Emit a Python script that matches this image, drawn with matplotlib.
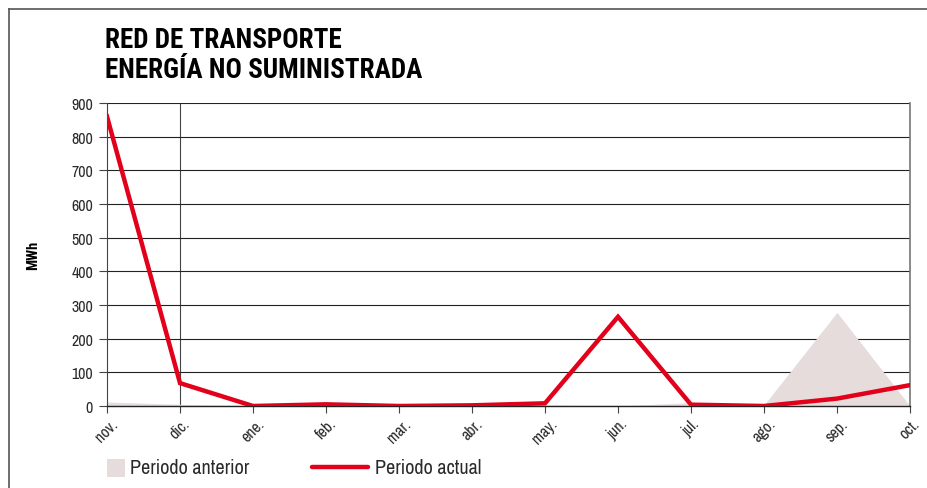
import matplotlib
matplotlib.use("Agg")

import matplotlib.pyplot as plt
from matplotlib.patches import Rectangle
from matplotlib.lines import Line2D

# -------------------------------
# DATA
# -------------------------------
MONTHS = ["nov.", "dic.", "ene.", "feb.", "mar.", "abr.", "may.", "jun.", "jul.", "ago.", "sep.", "oct."]
ACTUAL = [860, 68, 0, 5, 0, 2, 8, 265, 4, 0, 22, 62]
ANTERIOR = [12, 5, 0, 0, 0, 0, 3, 0, 10, 3, 278, 0]
Y_TICKS = [0, 100, 200, 300, 400, 500, 600, 700, 800, 900]

RED = "#e2001a"
GREY_FILL = "#e6dcdb"
TEXT = "#2a2a2a"
NARROW = ["Archivo Narrow", "Liberation Sans", "DejaVu Sans"]
BOLD = ["Roboto Condensed", "Liberation Sans", "DejaVu Sans"]

plt.rcParams["font.family"] = NARROW

fig = plt.figure(figsize=(9.28, 4.89), dpi=100)

# outer frame (top and left edges only)
fig.add_artist(Line2D([9 / 928, 1], [1 - 10 / 489] * 2, color="#555555", lw=1.2))
fig.add_artist(Line2D([9 / 928] * 2, [0, 1 - 10 / 489], color="#555555", lw=1.2))

ax = fig.add_axes([107 / 928, 1 - 407 / 489, 803 / 928, 303 / 489])
x = list(range(len(MONTHS)))

ax.fill_between(x, ANTERIOR, 0, color=GREY_FILL, lw=0, zorder=1)
ax.plot(x, ACTUAL, color=RED, lw=3.2, solid_joinstyle="miter", zorder=3)

ax.set_xlim(0, len(MONTHS) - 1)
ax.set_ylim(0, 900)
ax.set_yticks(Y_TICKS)
ax.set_xticks(x)
ax.set_xticklabels(MONTHS, rotation=45, ha="center", fontsize=11.5, color=TEXT)
ax.tick_params(axis="y", labelsize=11.5, labelcolor=TEXT, length=6, width=0.8, color="#444444", pad=4)
ax.tick_params(axis="x", length=5, width=0.8, color="#444444", pad=2)

ax.grid(axis="y", color="#222222", lw=0.8, zorder=0)
ax.set_axisbelow(True)
ax.axvline(1, color="#444444", lw=0.8, zorder=0)

ax.spines["top"].set_visible(False)
ax.spines["left"].set_color("#444444")
ax.spines["right"].set_color("#777777")
ax.spines["right"].set_linewidth(1.2)
ax.spines["bottom"].set_color("#222222")
ax.spines["bottom"].set_linewidth(1.0)

ax.set_ylabel("MWh", fontsize=10.5, fontweight="bold", family=BOLD)
ax.yaxis.set_label_coords(-0.083, 0.5)

fig.text(105 / 928, 1 - 41 / 489, "RED DE TRANSPORTE", fontsize=19.5, fontweight="bold",
         family=BOLD, va="center", ha="left")
fig.text(105 / 928, 1 - 71 / 489, "ENERGÍA NO SUMINISTRADA", fontsize=19.5, fontweight="bold",
         family=BOLD, va="center", ha="left")

# legend built by hand
fig.add_artist(Rectangle((107 / 928, 1 - 478 / 489), 18 / 928, 18 / 489, color=GREY_FILL, lw=0))
fig.text(130 / 928, 1 - 469 / 489, "Periodo anterior", fontsize=14.5, va="center", ha="left", color=TEXT)
fig.add_artist(Line2D([312 / 928, 368 / 928], [1 - 468 / 489] * 2, color=RED, lw=3.2, solid_capstyle="round"))
fig.text(375 / 928, 1 - 469 / 489, "Periodo actual", fontsize=14.5, va="center", ha="left", color=TEXT)

fig.savefig("out.png", dpi=100)
